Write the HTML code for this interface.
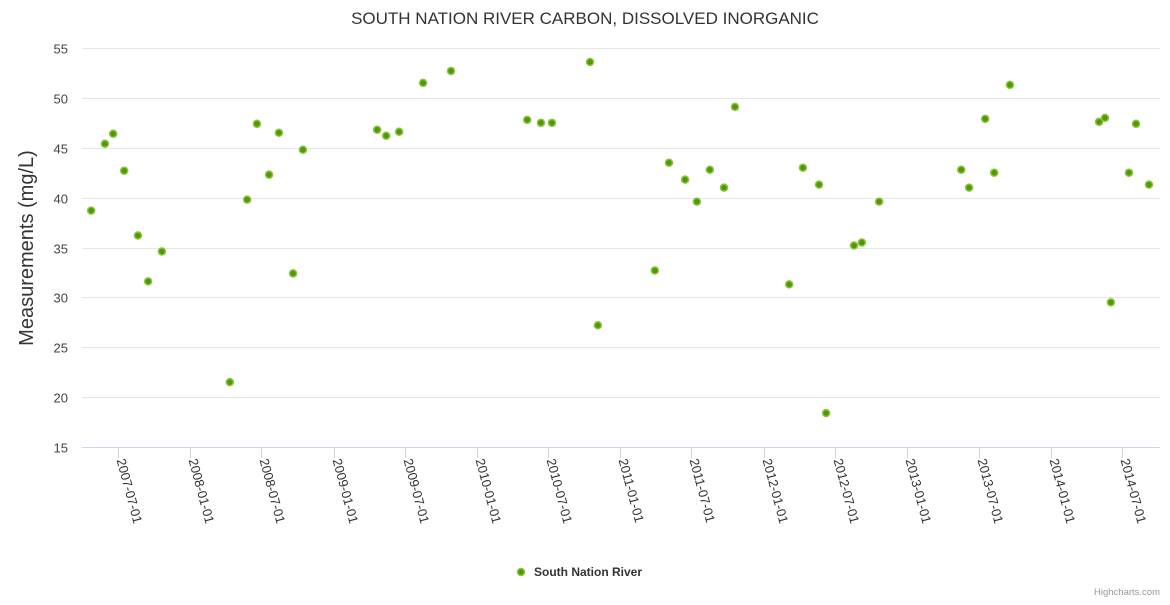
<!DOCTYPE html>
<html><head><meta charset="utf-8"><style>
body{margin:0;background:#fff;font-family:"Liberation Sans",sans-serif;}
svg text{font-family:"Liberation Sans",sans-serif;}
</style></head><body>
<svg id="chart" width="1170" height="600" xmlns="http://www.w3.org/2000/svg">
<text x="585" y="24" text-anchor="middle" font-size="17" fill="#333">SOUTH NATION RIVER CARBON, DISSOLVED INORGANIC</text>
<text transform="translate(33,248) rotate(-90)" text-anchor="middle" font-size="20" fill="#333">Measurements (mg/L)</text>
<g id="grid"></g><g id="xaxis"></g><g id="points"></g>
<g>
<circle cx="521" cy="572" r="3.5" fill="#4e9a06" stroke="#8cc43c" stroke-width="1.5"/>
<text x="534" y="576" font-size="12" font-weight="bold" fill="#333">South Nation River</text>
</g>
<text x="1160" y="595" text-anchor="end" font-size="9.5" fill="#999">Highcharts.com</text>
</svg>
<script>
const dates=["2007-04-25","2007-05-30","2007-06-20","2007-07-18","2007-08-22","2007-09-17","2007-10-22","2008-04-12","2008-05-26","2008-06-20","2008-07-21","2008-08-15","2008-09-20","2008-10-15","2009-04-22","2009-05-15","2009-06-17","2009-08-17","2009-10-27","2010-05-09","2010-06-13","2010-07-11","2010-10-16","2010-11-05","2011-03-30","2011-05-05","2011-06-15","2011-07-15","2011-08-17","2011-09-22","2011-10-20","2012-03-06","2012-04-10","2012-05-21","2012-06-08","2012-08-18","2012-09-07","2012-10-21","2013-05-18","2013-06-07","2013-07-18","2013-08-10","2013-09-19","2014-05-04","2014-05-19","2014-06-03","2014-07-19","2014-08-06","2014-09-08"];
const values=[38.7,45.4,46.4,42.7,36.2,31.6,34.6,21.5,39.8,47.4,42.3,46.5,32.4,44.8,46.8,46.2,46.6,51.5,52.7,47.8,47.5,47.5,53.6,27.2,32.7,43.5,41.8,39.6,42.8,41.0,49.1,31.3,43.0,41.3,18.4,35.2,35.5,39.6,42.8,41.0,47.9,42.5,51.3,47.6,48.0,29.5,42.5,47.4,41.3];
const yTicks=[15,20,25,30,35,40,45,50,55];
const xTicks=["2007-07-01","2008-01-01","2008-07-01","2009-01-01","2009-07-01","2010-01-01","2010-07-01","2011-01-01","2011-07-01","2012-01-01","2012-07-01","2013-01-01","2013-07-01","2014-01-01","2014-07-01"];
const NS="http://www.w3.org/2000/svg";
const L=82,R=1160,T=48,B=447;
const t0=Date.UTC(2007,6,1),pxPerDay=0.3928,x0=117.5;
function xs(d){const t=Date.parse(d+"T00:00:00Z");return x0+(t-t0)/86400000*pxPerDay;}
function ys(v){return B-(v-15)/(55-15)*(B-T);}
function mk(tag,attrs,parent){const e=document.createElementNS(NS,tag);for(const k in attrs)e.setAttribute(k,attrs[k]);parent.appendChild(e);return e;}
const grid=document.getElementById('grid');
yTicks.forEach(v=>{
  const y=Math.round(ys(v))+0.5;
  if(v>15){const g=mk('line',{x1:L,x2:R,y1:y,y2:y,stroke:'#e6e6e6','stroke-width':1},grid);
  
  }
  const t=mk('text',{x:68,y:y+5,'text-anchor':'end','font-size':13,fill:'#444'},grid);
  
  
  t.textContent=v;
});
const xa=document.getElementById('xaxis');
const al=mk('line',{x1:L,x2:R,y1:447.5,y2:447.5,stroke:'#ccd6eb','stroke-width':1},xa);


xTicks.forEach(d=>{
  const x=Math.round(xs(d))+0.5;
  const tk=mk('line',{x1:x,x2:x,y1:448,y2:458,stroke:'#ccd6eb','stroke-width':1},xa);
  
  
  const t=mk('text',{transform:`translate(${x-2},460) rotate(75)`,'font-size':13,fill:'#333'},xa);
  
  
  t.textContent=d;
});
const pts=document.getElementById('points');
dates.forEach((d,i)=>{
  const c=mk('circle',{cx:xs(d),cy:ys(values[i]),r:3.5,fill:'#4e9a06',stroke:'#8cc43c','stroke-width':1.5},pts);
  
  
});
</script>
</body></html>
